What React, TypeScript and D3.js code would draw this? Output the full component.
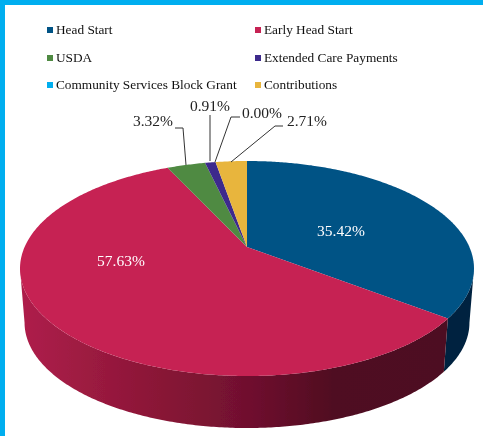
import React from "react";
import * as d3 from "d3";

const categories = ["Head Start", "Early Head Start", "USDA", "Extended Care Payments", "Community Services Block Grant", "Contributions"];
const values = [35.42, 57.63, 3.32, 0.91, 0.0, 2.71];
const topColors = ["#045285", "#C62052", "#4F8A43", "#3D2A8C", "#00AEEF", "#E8B53E"];
const labelText = ["35.42%", "57.63%", "3.32%", "0.91%", "0.00%", "2.71%"];

const W = 483, H = 436;
const cx = 247, cy = 247, K = 0.2, A = 222.4, B = 103.2;
const DEPTH = 54.6, SCALE = 0.98;
// angles where the projected rim reaches its widest points
const rightExtreme = Math.acos(-K);
const leftExtreme = 2 * Math.PI - rightExtreme;

function proj(t: number): [number, number] {
  const X = Math.sin(t), Y = Math.cos(t);
  const d = 1 + K * Y;
  return [cx + (A * X) / d, cy - (B * Y) / d];
}
function projLow(t: number): [number, number] {
  const [x, y] = proj(t);
  return [cx + (x - cx) * SCALE, cy + DEPTH + (y - cy) * SCALE];
}
const line = d3.line();
const arcs = d3.pie<number>().sort(null)(values);

function samples(a: number, b: number) {
  const n = Math.max(2, Math.ceil((b - a) / 0.01));
  return d3.range(n + 1).map((i) => a + ((b - a) * i) / n);
}
function topPath(a: number, b: number) {
  return line([[cx, cy], ...samples(a, b).map(proj)])! + "Z";
}
function sidePath(a: number, b: number) {
  const s = samples(a, b);
  return line([...s.map(proj), ...s.slice().reverse().map(projLow)])! + "Z";
}

const legendX = [49, 257];
const legendY = [30, 58, 85];

// leader polylines: label anchor, elbow, point on the rim
const leaders: [number, number][][] = [
  [[175, 128], [183, 128], [186, 165]],
  [[210, 115], [210, 161]],
  [[240, 117], [231, 117], [215, 162]],
  [[283, 126], [275, 126], [231, 162]],
];
const labelPos: [number, number][] = [
  [341, 236],
  [121, 266],
  [153, 126],
  [210, 111],
  [262, 118],
  [307, 126],
];

export default function App() {
  const head = arcs[0];
  const early = arcs[1];
  return (
    <svg width={W} height={H} viewBox={`0 0 ${W} ${H}`}
      style={{ position: "absolute", left: 0, top: 0, display: "block" }}
      fontFamily="'Liberation Serif', serif">
      <defs>
        <filter id="soft" x="-5%" y="-5%" width="110%" height="110%">
          <feGaussianBlur stdDeviation="0.5" />
        </filter>
        <linearGradient id="redSide" gradientUnits="userSpaceOnUse" x1="22" x2="445" y1="0" y2="0">
          <stop offset="0" stopColor="#AE1F4B" />
          <stop offset="0.3" stopColor="#8C1637" />
          <stop offset="0.55" stopColor="#6E102E" />
          <stop offset="0.74" stopColor="#4F0A20" />
          <stop offset="1" stopColor="#4E0A20" />
        </linearGradient>
      </defs>
      <rect width={W} height={H} fill="#00AEEF" />
      <rect x={5} y={5} width={W - 5} height={H - 5} fill="#FFFFFF" />
      <g filter="url(#soft)">
        <path d={sidePath(rightExtreme, head.endAngle)} fill="#00233F" />
        <path d={sidePath(early.startAngle, leftExtreme)} fill="url(#redSide)" />
        {arcs.map((a, i) => (
          a.endAngle > a.startAngle ? <path key={i} d={topPath(a.startAngle, a.endAngle)} fill={topColors[i]} /> : null
        ))}
        {leaders.map((pts, i) => (
          <path key={i} d={line(pts as [number, number][])!} fill="none" stroke="#333" strokeWidth={1} />
        ))}
        {categories.map((c, i) => {
          const col = i % 2, row = Math.floor(i / 2);
          const lx = legendX[col], ly = legendY[row];
          return (
            <g key={c}>
              <rect x={lx - 2} y={ly - 3} width={6} height={6} fill={topColors[i]} />
              <text x={lx + 7} y={ly + 4} fontSize={13.3} fill="#111">{c}</text>
            </g>
          );
        })}
        {labelPos.map(([x, y], i) => (
          <text key={i} x={x} y={y} fontSize={15.5} textAnchor="middle"
            fill={i < 2 ? "#FFFFFF" : "#222"}>{labelText[i]}</text>
        ))}
      </g>
    </svg>
  );
}
